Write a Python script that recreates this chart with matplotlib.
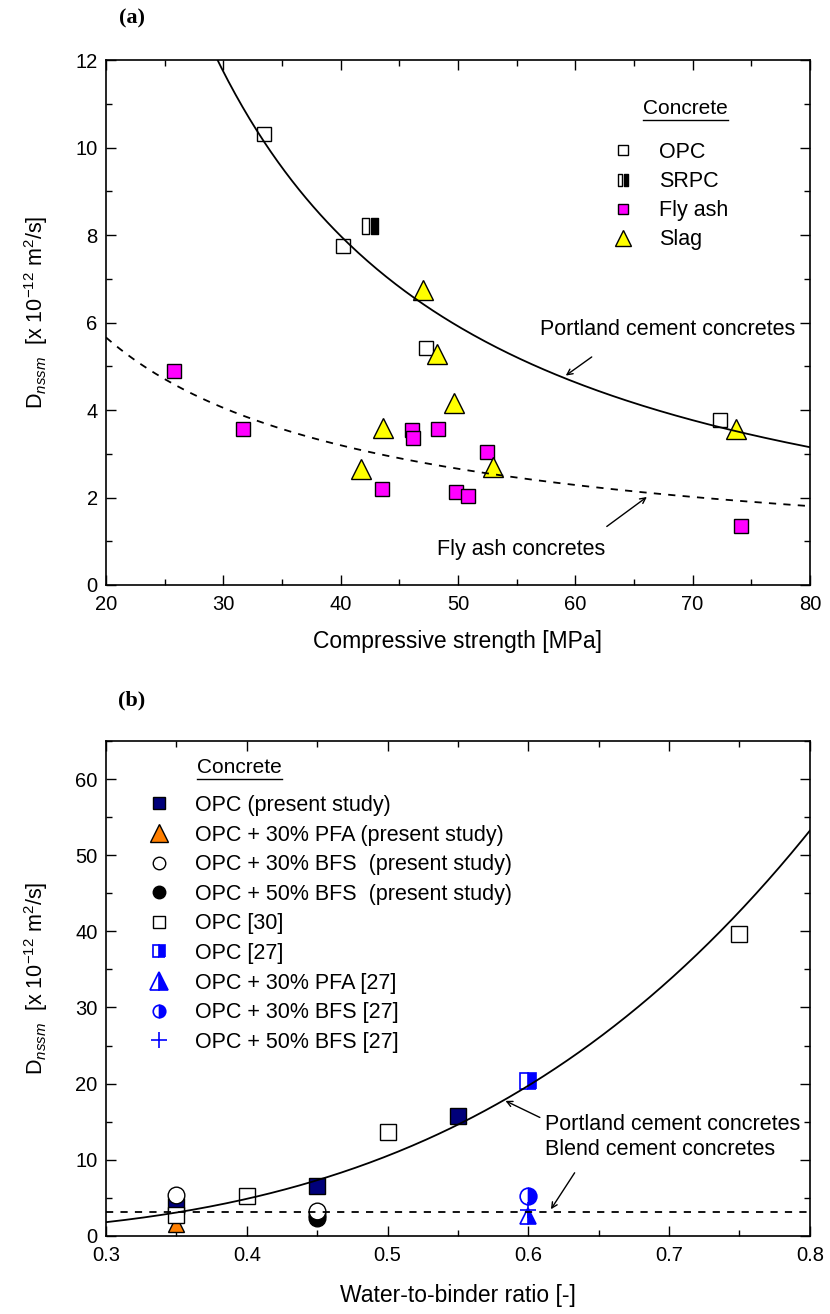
import numpy as np
import matplotlib
matplotlib.use('Agg')
import matplotlib.pyplot as plt
from matplotlib.lines import Line2D
from matplotlib.path import Path
from matplotlib import font_manager

# ---- fonts
installed = {f.name for f in font_manager.fontManager.ttflist}
narrow = 'Liberation Sans Narrow' if 'Liberation Sans Narrow' in installed else 'Liberation Sans'
plt.rcParams['font.family'] = ['Liberation Sans', 'DejaVu Sans']
plt.rcParams['mathtext.fontset'] = 'custom'
plt.rcParams['mathtext.rm'] = 'Liberation Sans'
plt.rcParams['mathtext.it'] = 'Liberation Sans:italic'

# ---- panel (a) data: compressive strength [MPa] vs Dnssm
opc_x = [33.5, 40.2, 47.3, 72.3]
opc_y = [10.3, 7.75, 5.42, 3.78]
srpc_x = [42.5]
srpc_y = [8.2]
flyash_x = [25.8, 31.7, 43.5, 46.1, 46.2, 48.3, 49.8, 50.9, 52.5, 74.1]
flyash_y = [4.9, 3.57, 2.2, 3.55, 3.37, 3.57, 2.13, 2.03, 3.03, 1.35]
slag_x = [47.0, 48.2, 49.7, 43.6, 41.7, 53.0, 73.7]
slag_y = [6.75, 5.27, 4.15, 3.6, 2.65, 2.7, 3.57]

# fitted curves (power law  y = a * x^b)
pc_fit_a, pc_fit_b = 1123.0, -1.341
fa_fit_a, fa_fit_b = 67.0, -0.825

# ---- panel (b) data: w/b ratio vs Dnssm
opc_ps_x = [0.35, 0.45, 0.55]
opc_ps_y = [3.9, 6.5, 15.7]
pfa_ps_x = [0.35]
pfa_ps_y = [1.6]
bfs30_ps_x = [0.35, 0.45]
bfs30_ps_y = [5.4, 3.3]
bfs50_ps_x = [0.45, 0.45]
bfs50_ps_y = [2.8, 2.4]
opc30_x = [0.35, 0.40, 0.50, 0.75]
opc30_y = [2.7, 5.3, 13.6, 39.7]
opc27_x = [0.60]
opc27_y = [20.4]
pfa27_x = [0.60]
pfa27_y = [2.6]
bfs30_27_x = [0.60]
bfs30_27_y = [5.3]
bfs50_27_x = [0.60]
bfs50_27_y = [3.4]

pcb_fit_a, pcb_fit_b = 114.9, 3.449
blend_level = 3.2

navy = '#00007a'
magenta = '#ff00ff'
yellow = '#ffff00'
orange = '#ff7f00'
blue = '#0000ff'

ylab = r'D$_{\mathit{nssm}}$  [x 10$^{-12}$ m$^{2}$/s]'
TXT = 15.5

# SRPC marker: white rectangle + black rectangle side by side
left_half = Path([(-0.9, -1), (-0.1, -1), (-0.1, 1), (-0.9, 1), (-0.9, -1)],
                 [Path.MOVETO, Path.LINETO, Path.LINETO, Path.LINETO, Path.CLOSEPOLY])
right_half = Path([(0.1, -1), (0.9, -1), (0.9, 1), (0.1, 1), (0.1, -1)],
                  [Path.MOVETO, Path.LINETO, Path.LINETO, Path.LINETO, Path.CLOSEPOLY])


def style_axes(ax, xmaj, xmin, ymaj, ymin):
    ax.tick_params(which='both', direction='in', top=True, right=True,
                   labelsize=14.5, width=1.0)
    ax.tick_params(axis='x', pad=7)
    ax.tick_params(axis='y', pad=6)
    ax.tick_params(which='major', length=7)
    ax.tick_params(which='minor', length=4)
    ax.xaxis.set_major_locator(plt.MultipleLocator(xmaj))
    ax.xaxis.set_minor_locator(plt.MultipleLocator(xmin))
    ax.yaxis.set_major_locator(plt.MultipleLocator(ymaj))
    ax.yaxis.set_minor_locator(plt.MultipleLocator(ymin))
    for s in ax.spines.values():
        s.set_linewidth(1.2)


def underline_title(fig, ax, x, y, text, size):
    t = ax.text(x, y, text, transform=ax.transAxes, fontsize=size,
                family=narrow, ha='left', va='baseline')
    fig.canvas.draw()
    bb = t.get_window_extent().transformed(ax.transAxes.inverted())
    ax.plot([bb.x0, bb.x1], [y - 0.012, y - 0.012], color='black', lw=1.0,
            transform=ax.transAxes, clip_on=False)


fig = plt.figure(figsize=(8.3, 13.14), dpi=100)

# ===================== panel (a)
ax1 = fig.add_axes([0.1277, 0.5548, 0.848, 0.3995])
xx = np.linspace(20, 80, 300)
ax1.plot(xx, pc_fit_a * xx ** pc_fit_b, color='black', lw=1.3, zorder=6)
ax1.plot(xx, fa_fit_a * xx ** fa_fit_b, color='black', lw=1.3, ls=(0, (4, 4)), zorder=6)

ax1.plot(opc_x, opc_y, 's', ms=10, mfc='white', mec='black', mew=1.0, ls='none', zorder=4)
ax1.plot(srpc_x, srpc_y, marker=left_half, ms=12, mfc='white', mec='black', mew=1.0, ls='none', zorder=4)
ax1.plot(srpc_x, srpc_y, marker=right_half, ms=12, mfc='black', mec='black', mew=1.0, ls='none', zorder=4)
ax1.plot(flyash_x, flyash_y, 's', ms=10, mfc=magenta, mec='black', mew=1.0, ls='none', zorder=4)
ax1.plot(slag_x, slag_y, '^', ms=14, mfc=yellow, mec='black', mew=1.0, ls='none', zorder=4)

ax1.set_xlim(20, 80)
ax1.set_ylim(0, 12)
style_axes(ax1, 10, 5, 2, 1)
ax1.set_xlabel('Compressive strength [MPa]', fontsize=16.5, labelpad=12)
ax1.set_ylabel(ylab, fontsize=15.5)
ax1.yaxis.set_label_coords(-0.08, 0.52)

ax1.annotate('', xy=(59.0, 4.75), xytext=(61.6, 5.25),
             arrowprops=dict(arrowstyle='->', color='black', lw=1.0))
ax1.text(57.0, 5.83, 'Portland cement concretes', fontsize=TXT, family=narrow, va='center')
ax1.annotate('', xy=(66.3, 2.05), xytext=(62.5, 1.3),
             arrowprops=dict(arrowstyle='->', color='black', lw=1.0))
ax1.text(48.2, 0.82, 'Fly ash concretes', fontsize=TXT, family=narrow, va='center')

h_a = [Line2D([], [], marker='s', ms=6.5, mfc='white', mec='black', ls='none'),
       (Line2D([], [], marker=left_half, ms=8, mfc='white', mec='black', ls='none'),
        Line2D([], [], marker=right_half, ms=8, mfc='black', mec='black', ls='none')),
       Line2D([], [], marker='s', ms=6.5, mfc=magenta, mec='black', ls='none'),
       Line2D([], [], marker='^', ms=12, mfc=yellow, mec='black', ls='none')]
lab_a = ['OPC', 'SRPC', 'Fly ash', 'Slag']
leg_a = ax1.legend(h_a, lab_a, loc='upper left', bbox_to_anchor=(0.719, 0.844),
                   frameon=False, prop={'family': narrow, 'size': TXT},
                   handlelength=1.0, handletextpad=1.2, labelspacing=0.38,
                   borderpad=0, borderaxespad=0)

fig.text(0.159, 0.986, '(a)', fontsize=16, weight='bold', family='Liberation Serif',
         ha='center', va='center')

# ===================== panel (b)
ax2 = fig.add_axes([0.1277, 0.0594, 0.848, 0.3767])
wb = np.linspace(0.3, 0.8, 300)
ax2.plot(wb, pcb_fit_a * wb ** pcb_fit_b, color='black', lw=1.3, zorder=6)
ax2.axhline(blend_level, color='black', lw=1.3, ls=(0, (4, 4)), zorder=6)

ax2.plot(pfa_ps_x, pfa_ps_y, '^', ms=12, mfc=orange, mec='black', mew=1.0, ls='none', zorder=3)
ax2.plot(opc_ps_x, opc_ps_y, 's', ms=12, mfc=navy, mec='black', mew=1.0, ls='none', zorder=3)
ax2.plot(opc30_x, opc30_y, 's', ms=12, mfc='white', mec='black', mew=1.0, ls='none', zorder=4)
ax2.plot(bfs50_ps_x, bfs50_ps_y, 'o', ms=12, mfc='black', mec='black', mew=1.0, ls='none', zorder=4)
ax2.plot(bfs30_ps_x, bfs30_ps_y, 'o', ms=12, mfc='white', mec='black', mew=1.0, ls='none', zorder=5)
ax2.plot(opc27_x, opc27_y, 's', ms=12, fillstyle='right', mfc=blue, mfcalt='white', mec=blue,
         mew=1.2, ls='none', zorder=4)
ax2.plot(pfa27_x, pfa27_y, '^', ms=12, fillstyle='right', mfc=blue, mfcalt='white', mec=blue,
         mew=1.2, ls='none', zorder=4)
ax2.plot(bfs30_27_x, bfs30_27_y, 'o', ms=12, fillstyle='right', mfc=blue, mfcalt='white', mec=blue,
         mew=1.2, ls='none', zorder=4)
ax2.plot(bfs50_27_x, bfs50_27_y, '+', ms=12, mec=blue, mew=1.2, ls='none', zorder=4)

ax2.set_xlim(0.3, 0.8)
ax2.set_ylim(0, 65)
style_axes(ax2, 0.1, 0.05, 10, 5)
ax2.set_xlabel('Water-to-binder ratio [-]', fontsize=16.5, labelpad=14)
ax2.set_ylabel(ylab, fontsize=15.5)
ax2.yaxis.set_label_coords(-0.08, 0.52)

ax2.annotate('', xy=(0.582, 17.9), xytext=(0.61, 15.4),
             arrowprops=dict(arrowstyle='->', color='black', lw=1.0))
ax2.text(0.612, 14.6, 'Portland cement concretes', fontsize=TXT, family=narrow, va='center')
ax2.annotate('', xy=(0.615, blend_level), xytext=(0.634, 8.6),
             arrowprops=dict(arrowstyle='->', color='black', lw=1.0))
ax2.text(0.612, 11.3, 'Blend cement concretes', fontsize=TXT, family=narrow, va='center')

h_b = [Line2D([], [], marker='s', ms=8.5, mfc=navy, mec='black', ls='none'),
       Line2D([], [], marker='^', ms=13, mfc=orange, mec='black', ls='none'),
       Line2D([], [], marker='o', ms=9, mfc='white', mec='black', ls='none'),
       Line2D([], [], marker='o', ms=9, mfc='black', mec='black', ls='none'),
       Line2D([], [], marker='s', ms=8.5, mfc='white', mec='black', ls='none'),
       Line2D([], [], marker='s', ms=8.5, fillstyle='right', mfc=blue, mfcalt='white', mec=blue, mew=1.2, ls='none'),
       Line2D([], [], marker='^', ms=13, fillstyle='right', mfc=blue, mfcalt='white', mec=blue, mew=1.2, ls='none'),
       Line2D([], [], marker='o', ms=9, fillstyle='right', mfc=blue, mfcalt='white', mec=blue, mew=1.2, ls='none'),
       Line2D([], [], marker='+', ms=12, mec=blue, mew=1.2, ls='none')]
lab_b = ['OPC (present study)', 'OPC + 30% PFA (present study)',
         'OPC + 30% BFS  (present study)', 'OPC + 50% BFS  (present study)',
         'OPC [30]', 'OPC [27]', 'OPC + 30% PFA [27]', 'OPC + 30% BFS [27]',
         'OPC + 50% BFS [27]']
leg_b = ax2.legend(h_b, lab_b, loc='upper left', bbox_to_anchor=(0.0597, 0.891),
                   frameon=False, prop={'family': narrow, 'size': TXT},
                   handlelength=1.0, handletextpad=1.2, labelspacing=0.40,
                   borderpad=0, borderaxespad=0)

fig.text(0.159, 0.467, '(b)', fontsize=16, weight='bold', family='Liberation Serif',
         ha='center', va='center')

underline_title(fig, ax1, 0.763, 0.897, 'Concrete', 15)
underline_title(fig, ax2, 0.129, 0.935, 'Concrete', 15)

fig.savefig('out.png', dpi=100)
